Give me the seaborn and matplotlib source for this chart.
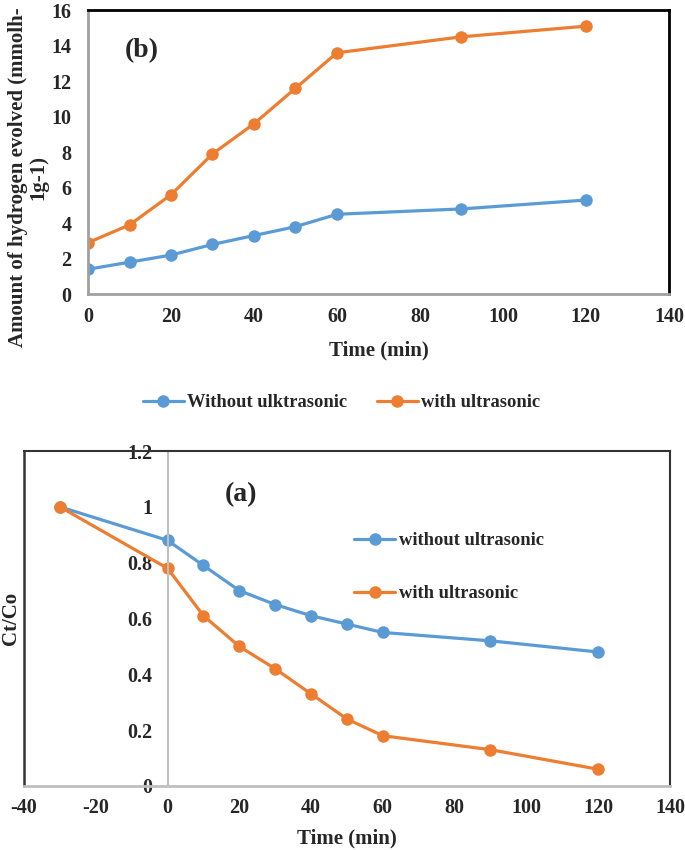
import pandas as pd
import seaborn as sns
import matplotlib.pyplot as plt

# --- DATA ---
# panel (b): hydrogen evolved
h2_time = [0, 10, 20, 30, 40, 50, 60, 90, 120]
h2_without = [1.4, 1.8, 2.2, 2.8, 3.3, 3.8, 4.5, 4.8, 5.3]
h2_with = [2.9, 3.9, 5.6, 7.9, 9.6, 11.6, 13.6, 14.5, 15.1]
h2_labels = ["Without ulktrasonic", "with ultrasonic"]

# panel (a): Ct/Co degradation
deg_time = [-30, 0, 10, 20, 30, 40, 50, 60, 90, 120]
deg_without = [1.0, 0.88, 0.79, 0.70, 0.65, 0.61, 0.58, 0.55, 0.52, 0.48]
deg_with = [1.0, 0.78, 0.61, 0.50, 0.42, 0.33, 0.24, 0.18, 0.13, 0.06]
deg_labels = ["without ultrasonic", "with ultrasonic"]

BLUE = "#5B9BD5"
ORANGE = "#ED7D31"

sns.set_style("white")
plt.rcParams['font.family'] = ['Liberation Serif', 'DejaVu Serif']
plt.rcParams['font.weight'] = 'bold'
plt.rcParams['axes.labelweight'] = 'bold'
plt.rcParams['axes.unicode_minus'] = False

h2_df = pd.DataFrame({
    'time': h2_time + h2_time,
    'value': h2_without + h2_with,
    'series': [h2_labels[0]] * len(h2_time) + [h2_labels[1]] * len(h2_time),
})
deg_df = pd.DataFrame({
    'time': deg_time + deg_time,
    'value': deg_without + deg_with,
    'series': [deg_labels[0]] * len(deg_time) + [deg_labels[1]] * len(deg_time),
})

FS = 14.5      # tick labels
LFS = 15       # axis labels
LEG = 13.3     # legend text

fig = plt.figure(figsize=(6.85, 8.5), dpi=100)
ax_b = fig.add_axes([0.1285, 0.654, 0.848, 0.334])
ax_a = fig.add_axes([0.035, 0.0753, 0.943, 0.3941])

line_kw = dict(marker='o', markersize=9, linewidth=2.3, markeredgewidth=0)

# --- PANEL (b) ---
sns.lineplot(data=h2_df, x='time', y='value', hue='series',
             palette=[BLUE, ORANGE], ax=ax_b, legend=True, **line_kw)
ax_b.set_xlim(0, 140)
ax_b.set_ylim(0, 16)
ax_b.set_xticks(range(0, 141, 20))
ax_b.set_yticks(range(0, 17, 2))
ax_b.tick_params(labelsize=FS, length=0, pad=9)
ax_b.tick_params(axis='y', pad=12)
ax_b.set_xlabel("Time (min)", fontsize=LFS, fontweight='bold', labelpad=10)
ax_b.set_ylabel("Amount of hydrogen evolved (mmolh-\n1g-1)", fontsize=LFS,
                fontweight='bold', linespacing=1.0)
ax_b.yaxis.set_label_coords(-0.069, 0.412, transform=ax_b.transAxes)
for s in ['left', 'bottom']:
    ax_b.spines[s].set_color('#A0A0A0')
    ax_b.spines[s].set_linewidth(2)
for s in ['top', 'right']:
    ax_b.spines[s].set_color('black')
    ax_b.spines[s].set_linewidth(2)
ax_b.text(0.064, 0.859, "(b)", transform=ax_b.transAxes, fontsize=20,
          fontweight='bold', va='center')
handles, labels = ax_b.get_legend_handles_labels()
ax_b.get_legend().remove()
fig.legend(handles, labels, loc='center', bbox_to_anchor=(0.499, 0.526), ncol=2,
           frameon=False, fontsize=LEG, handlelength=2.2, columnspacing=1.6,
           handletextpad=0.2)

# --- PANEL (a) ---
sns.lineplot(data=deg_df, x='time', y='value', hue='series',
             palette=[BLUE, ORANGE], ax=ax_a, legend=True, **line_kw)
ax_a.set_xlim(-40, 140)
ax_a.set_ylim(0, 1.2)
ax_a.set_xticks(range(-40, 141, 20))
ax_a.set_yticks([0, 0.2, 0.4, 0.6, 0.8, 1.0, 1.2])
ax_a.set_yticklabels(['0', '0.2', '0.4', '0.6', '0.8', '1', '1.2'])
ax_a.tick_params(labelsize=FS, length=0, pad=9)
ax_a.tick_params(axis='y', pad=11)
ax_a.spines['left'].set_position(('data', 0))
ax_a.spines['left'].set_color('#BFBFBF')
ax_a.spines['left'].set_linewidth(1.5)
ax_a.spines['bottom'].set_color('#BFBFBF')
ax_a.spines['bottom'].set_linewidth(2)
for s in ['top', 'right']:
    ax_a.spines[s].set_color('#333333')
    ax_a.spines[s].set_linewidth(1.5)
# outer frame on the left side
ax_a.plot([0, 0], [0, 1], transform=ax_a.transAxes, color='#333333',
          linewidth=1.8, clip_on=False)
ax_a.set_xlabel("Time (min)", fontsize=LFS, fontweight='bold', labelpad=7)
ax_a.set_ylabel("Ct/Co", fontsize=LFS, fontweight='bold')
ax_a.yaxis.set_label_coords(-0.005, 0.5, transform=ax_a.transAxes)
ax_a.text(0.311, 0.869, "(a)", transform=ax_a.transAxes, fontsize=20,
          fontweight='bold', va='center')
ax_a.legend(loc='upper left', bbox_to_anchor=(0.5, 0.779), frameon=False,
            fontsize=LEG, handlelength=2.2, handletextpad=0.2,
            labelspacing=1.95, borderaxespad=0)

fig.savefig("out.png", dpi=100)
